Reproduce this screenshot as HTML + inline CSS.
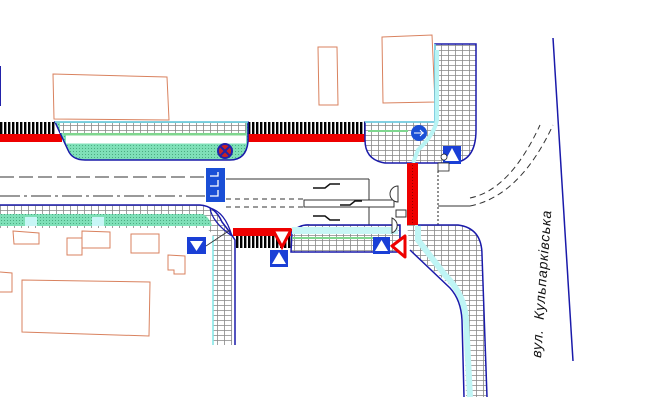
<!DOCTYPE html>
<html><head><meta charset="utf-8"><style>
html,body{margin:0;padding:0;background:#fff;width:672px;height:403px;overflow:hidden}
svg{display:block}
</style></head><body>
<svg width="672" height="403" viewBox="0 0 672 403" xmlns="http://www.w3.org/2000/svg">
<defs>
<pattern id="pv" width="7" height="5" patternUnits="userSpaceOnUse">
<rect width="7" height="5" fill="#fff"/><path d="M0 0.5H7M0.5 0V5" stroke="#888" stroke-width="0.8"/>
</pattern>
<pattern id="gr" width="3" height="3" patternUnits="userSpaceOnUse">
<rect width="3" height="3" fill="#7fe0b8"/><circle cx="1.5" cy="1.5" r="0.5" fill="#3a9a70"/>
</pattern>
<pattern id="hb" width="4" height="12" patternUnits="userSpaceOnUse">
<rect width="2.4" height="12" fill="#000"/>
</pattern>
</defs>

<g fill="none" stroke="#d9825f" stroke-width="1">
<path d="M53 74L167 77L169 120L54 119Z"/>
<path d="M318 47L337 47L338 105L319 105Z"/>
<path d="M382 37L432 35L435 102L383 103Z"/>
<path d="M13 231L39 233L39 244L14 244Z"/>
<path d="M67 238L82 238L82 255L67 255Z"/>
<path d="M82 231L110 232L110 248L82 248Z"/>
<path d="M131 234L159 234L159 253L131 253Z"/>
<path d="M168 255L185 256L185 274L174 274L174 270L168 270Z"/>
<path d="M0 272L12 273L12 292L0 292"/>
<path d="M22 280L150 282L149 336L22 332Z"/>
</g>
<path d="M0 66V106" stroke="#2222aa" stroke-width="2"/>

<rect x="0" y="122" width="56" height="12" fill="url(#hb)"/>
<rect x="0" y="134" width="62" height="8" fill="#e00"/>
<rect x="248" y="122" width="117" height="12" fill="url(#hb)"/>
<rect x="248" y="134" width="117" height="8" fill="#e00"/>

<path d="M55 122L248 122L248 142Q246 160 230 160L85 160Q72 160 68 150Z" fill="url(#gr)" stroke="#1a1aaa" stroke-width="1.5"/>
<rect x="60" y="123" width="186" height="10" fill="url(#pv)"/>
<rect x="64" y="133" width="182" height="2.5" fill="#7fd68f"/>
<rect x="66" y="135.5" width="180" height="8" fill="#fff"/>
<path d="M55 122H248" stroke="#7ee6e6" stroke-width="1.5"/>
<circle cx="225" cy="151" r="7" fill="#c22" stroke="#22a" stroke-width="2"/>
<path d="M220 146L230 156M230 146L220 156" stroke="#22a" stroke-width="2"/>

<path d="M365 122L435 122L435 44L476 44L476 130Q476 163 450 163L385 163Q365 160 365 140Z" fill="url(#pv)" stroke="#1a1aaa" stroke-width="1.5"/>
<path d="M365 122H435V44" fill="none" stroke="#7ee6e6" stroke-width="1.5"/>
<path d="M437 50V120Q434 135 418 150L413 163" fill="none" stroke="#b8f4f4" stroke-width="4"/>
<path d="M368 131H408" stroke="#7fd68f" stroke-width="2"/>
<circle cx="419" cy="133" r="8" fill="#1a4fd6"/>
<path d="M414 133H424M420 130L423 133L420 136" stroke="#fff" stroke-width="1" fill="none"/>
<rect x="443" y="146" width="18" height="18" fill="#1a3fd6"/>
<path d="M445 161L452 148L459 161Z" fill="#fff"/>
<circle cx="444" cy="157" r="3" fill="#fff" stroke="#222" stroke-width="0.8"/>
<rect x="438" y="163" width="11" height="8" fill="#fff" stroke="#222" stroke-width="0.8"/>

<rect x="407" y="163" width="11" height="63" fill="#e00"/>
<path d="M412.5 165V224" stroke="#900" stroke-width="1" stroke-dasharray="1 2"/>
<path d="M438 171V226" stroke="#222" stroke-width="1" stroke-dasharray="2 2"/>

<path d="M0 177H205" stroke="#333" stroke-width="1" stroke-dasharray="14 5"/>
<path d="M226 179H369" stroke="#333" stroke-width="1"/>
<path d="M369 179V225" stroke="#333" stroke-width="1"/>
<path d="M0 196H205" stroke="#333" stroke-width="1" stroke-dasharray="20 4 3 4"/>
<path d="M226 199H305" stroke="#333" stroke-width="1" stroke-dasharray="5 4"/>
<path d="M226 207H305" stroke="#333" stroke-width="1" stroke-dasharray="5 4"/>
<rect x="304" y="200" width="90" height="7" fill="#fff" stroke="#333" stroke-width="1"/>
<path d="M438 206H470" stroke="#333" stroke-width="1"/>
<path d="M470 206Q520 196 553 125" fill="none" stroke="#333" stroke-width="1" stroke-dasharray="6 4"/>
<path d="M470 198Q510 190 540 125" fill="none" stroke="#333" stroke-width="1" stroke-dasharray="6 4"/>
<g stroke="#111" stroke-width="1.5" fill="none">
<path d="M313 188H325L330 184H340"/><path d="M340 205H350L355 201H362"/><path d="M313 216H325L330 220H340"/>
</g>
<rect x="206" y="168" width="19" height="34" fill="#1a4fd6"/>
<path d="M210 176H218V172M210 186H218V180M210 196H218V190" stroke="#fff" stroke-width="1.3" fill="none"/>
<path d="M398 186A8 8 0 0 0 398 202Z" fill="#fff" stroke="#333"/>
<rect x="396" y="210" width="10" height="7" fill="#fff" stroke="#333"/>

<path d="M0 205H200Q215 206 222 222L232 238V345H213V238Q213 232 205 228H0Z" fill="url(#pv)" stroke="none"/>
<path d="M0 214H203Q210 218 212 226H0Z" fill="url(#gr)"/>
<rect x="25" y="217" width="12" height="9" fill="#c8f6f6"/>
<rect x="92" y="217" width="12" height="9" fill="#c8f6f6"/>
<path d="M0 205H200Q215 206 222 222Q230 232 235 240V345" fill="none" stroke="#1a1aaa" stroke-width="1.5"/>
<path d="M213 236V345" stroke="#7ee6e6" stroke-width="1.5"/>
<path d="M210 208Q225 212 232 236M210 208Q212 222 232 236" fill="none" stroke="#1a1aaa" stroke-width="1.2"/>
<rect x="187" y="237" width="19" height="17" fill="#1a3fd6"/>
<path d="M190 241H203L196.5 251Z" fill="#fff"/>
<path d="M206 246L230 230" stroke="#333" stroke-width="0.8"/>

<rect x="233" y="228" width="58" height="8" fill="#e00"/>
<rect x="235" y="236" width="56" height="12" fill="url(#hb)"/>
<path d="M273 230H291L282 247Z" fill="#fff" stroke="#e00" stroke-width="3"/>
<rect x="270" y="250" width="18" height="17" fill="#1a3fd6"/>
<path d="M272 264L279 252L286 264Z" fill="#fff"/>

<path d="M292 232Q300 224 310 225L400 225V252H291Z" fill="url(#pv)" stroke="#1a1aaa" stroke-width="1.5"/>
<rect x="292" y="227" width="106" height="7" fill="#c8f6f6"/>
<path d="M292 238H390" stroke="#7fd68f" stroke-width="2"/>
<rect x="373" y="237" width="17" height="17" fill="#1a3fd6"/>
<path d="M375 251L381.5 240L388 251Z" fill="#fff"/>
<path d="M392 246L405 236V257Z" fill="#fff" stroke="#e00" stroke-width="3" stroke-linejoin="round"/>
<path d="M392 218A8 8 0 0 1 392 233Z" fill="#fff" stroke="#333"/>

<path d="M407 225L458 225Q482 228 482 255L487 397L466 397L464 320Q463 298 450 285L410 250Z" fill="url(#pv)" stroke="none"/>
<path d="M418 225L418 240L445 275Q465 295 466 320L470 397" fill="none" stroke="#bff5f5" stroke-width="6"/>
<path d="M418 225H458Q482 228 482 255L487 397" fill="none" stroke="#1a1aaa" stroke-width="1.5"/>
<path d="M410 250L450 288Q461 300 462 320L464 397" fill="none" stroke="#1a1aaa" stroke-width="1.5"/>

<path d="M553 38L573 361" stroke="#1a1aaa" stroke-width="1.5"/>
<text transform="translate(541,358) rotate(-86)" font-family="Liberation Sans, sans-serif" font-style="italic" font-size="14" letter-spacing="0.8" fill="#111" xml:space="preserve">вул.  Кульпарківська</text>
</svg>
</body></html>
